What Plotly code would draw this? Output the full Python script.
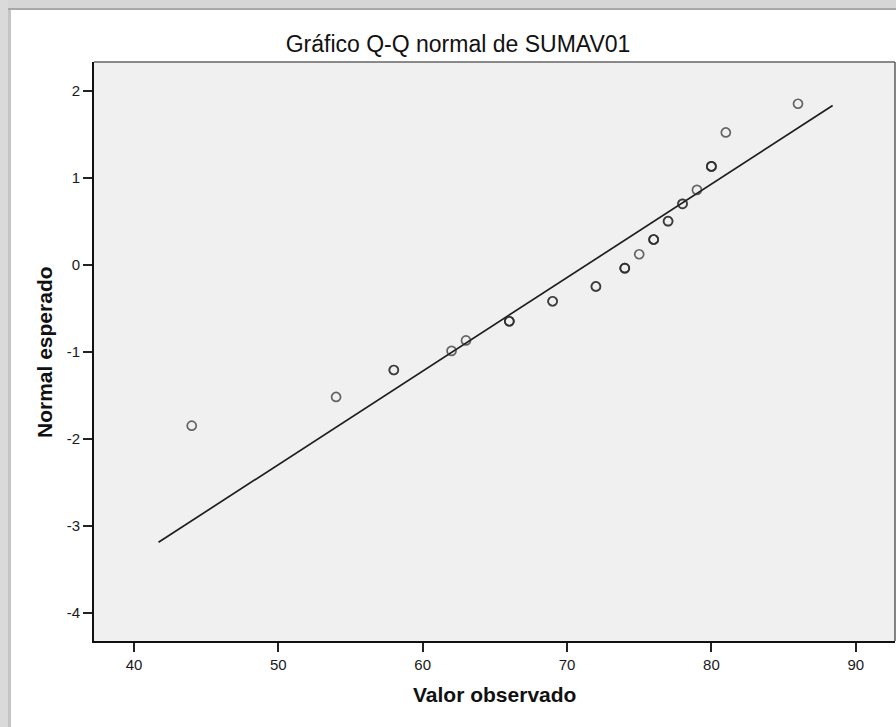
import plotly.graph_objects as go

# ---- data ----
observed = [44, 54, 58, 62, 63, 66, 69, 72, 74, 75, 76, 77, 78, 79, 80, 81, 86]
counts   = [1, 1, 2, 1, 1, 3, 2, 2, 3, 1, 3, 2, 2, 1, 3, 1, 1]
expected = [-1.85, -1.52, -1.21, -0.99, -0.87, -0.65, -0.42, -0.25, -0.04,
            0.12, 0.29, 0.50, 0.70, 0.86, 1.13, 1.52, 1.85]
line_x = [41.7, 88.4]
line_y = [-3.19, 1.83]
x_ticks = [40, 50, 60, 70, 80, 90]
x_tick_labels = ["40", "50", "60", "70", "80", "90"]
y_ticks = [-4, -3, -2, -1, 0, 1, 2]
y_tick_labels = ["-4", "-3", "-2", "-1", "0", "1", "2"]

title_text = "Gráfico Q-Q normal de SUMAV01"
x_title = "Valor observado"
y_title = "Normal esperado"

# expand tied observations (drawn on top of each other)
pts_x, pts_y = [], []
for xv, c, yv in zip(observed, counts, expected):
    pts_x += [xv] * c
    pts_y += [yv] * c

W, H = 896, 727
ML, MR, MT, MB = 94, 1, 62, 86
PW, PH = W - ML - MR, H - MT - MB

def px(xpix):
    return (xpix - ML) / PW

def py(ypix):
    return (H - MB - ypix) / PH

FONT = "Liberation Sans, Arial, sans-serif"

fig = go.Figure()
fig.add_trace(go.Scatter(
    x=line_x, y=line_y, mode="lines",
    line=dict(color="#1e1e1e", width=1.7),
    hoverinfo="skip", showlegend=False))
fig.add_trace(go.Scatter(
    x=pts_x, y=pts_y, mode="markers",
    marker=dict(symbol="circle-open", size=9, color="rgba(45,45,45,0.72)",
                line=dict(width=1.7)),
    showlegend=False))

axis_common = dict(
    showgrid=False, zeroline=False, showline=True, linecolor="#111",
    linewidth=1.6, ticks="outside", ticklen=9, tickwidth=1.6, tickcolor="#222",
    tickfont=dict(family=FONT, size=15, color="#1a1a1a"),
)
fig.update_xaxes(range=[37.23, 92.72], tickvals=x_ticks, ticktext=x_tick_labels, **axis_common)
fig.update_yaxes(range=[-4.325, 2.33], tickvals=y_ticks, ticktext=y_tick_labels, **axis_common)

shapes = [
    # top and right frame of the plot area
    dict(type="line", xref="paper", yref="paper", x0=0, x1=1, y0=1, y1=1,
         line=dict(color="#666", width=1.6), layer="above"),
    dict(type="line", xref="paper", yref="paper", x0=1, x1=1, y0=0, y1=1,
         line=dict(color="#666", width=1.6), layer="above"),
    # outer window border (top and left grey bands)
    dict(type="rect", xref="paper", yref="paper", x0=px(0), x1=px(W), y0=py(8), y1=py(0),
         fillcolor="#d6d6d6", line=dict(width=0)),
    dict(type="rect", xref="paper", yref="paper", x0=px(0), x1=px(W), y0=py(10), y1=py(8),
         fillcolor="#a8a8a8", line=dict(width=0)),
    dict(type="rect", xref="paper", yref="paper", x0=px(0), x1=px(8), y0=py(H), y1=py(0),
         fillcolor="#dadada", line=dict(width=0)),
    dict(type="rect", xref="paper", yref="paper", x0=px(8), x1=px(11), y0=py(H), y1=py(10),
         fillcolor="#c4c4c4", line=dict(width=0)),
]

annotations = [
    dict(text=x_title, xref="paper", yref="paper", x=0.5, y=py(695),
         xanchor="center", yanchor="middle", showarrow=False,
         font=dict(family=FONT, size=21, color="#111", weight="bold")),
    dict(text=y_title, xref="paper", yref="paper", x=px(45), y=py(352),
         xanchor="center", yanchor="middle", showarrow=False, textangle=-90,
         font=dict(family=FONT, size=21, color="#111", weight="bold")),
]

fig.update_layout(
    width=W, height=H,
    margin=dict(l=ML, r=MR, t=MT, b=MB),
    paper_bgcolor="white", plot_bgcolor="#f0f0f0",
    title=dict(text=title_text, xref="container", yref="container",
               x=458 / W, y=1 - 44 / H, xanchor="center", yanchor="middle",
               font=dict(family=FONT, size=23, color="#111")),
    shapes=shapes, annotations=annotations,
    showlegend=False,
)

fig.write_html(
    "out.html",
    config={"displayModeBar": False},
    post_script="document.body.style.margin='0';document.body.style.overflow='hidden';",
)
